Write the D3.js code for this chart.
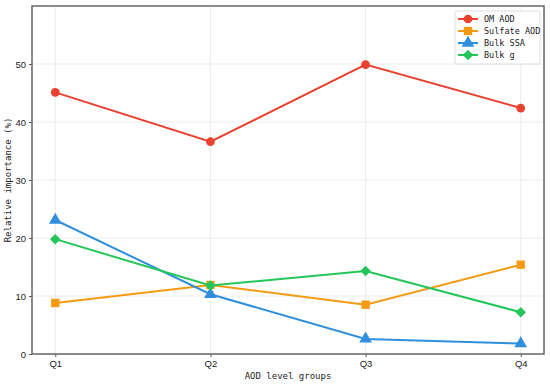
<!DOCTYPE html>
<html>
<head>
<meta charset="utf-8">
<script src="https://cdn.jsdelivr.net/npm/d3@7"></script>
<style>
  body { margin: 0; background: #fff; }
  svg text { font-family: "DejaVu Sans Mono", "Liberation Mono", monospace; fill: #222; }
</style>
</head>
<body>
<div id="chart"></div>
<script>
// AOD level groups and relative importance of each variable (%)
var groups = ["Q1", "Q2", "Q3", "Q4"];
var omAod = [45.1, 36.6, 49.9, 42.4];
var sulfateAod = [8.8, 11.9, 8.5, 15.4];
var bulkSsa = [23.1, 10.3, 2.6, 1.8];
var bulkG = [19.8, 11.8, 14.3, 7.2];
var yTicks = [0, 10, 20, 30, 40, 50];

// diamond = square turned 45 degrees
var series = [
  {name: "OM AOD", values: omAod, color: "#e8412f", symbol: d3.symbolCircle, size: 60, rot: 0},
  {name: "Sulfate AOD", values: sulfateAod, color: "#f59a12", symbol: d3.symbolSquare, size: 70, rot: 0},
  {name: "Bulk SSA", values: bulkSsa, color: "#2f8fdc", symbol: d3.symbolTriangle, size: 70, rot: 0},
  {name: "Bulk g", values: bulkG, color: "#23c65a", symbol: d3.symbolSquare, size: 55, rot: 45}
];

var width = 550, height = 384;
var margin = {top: 6, right: 6, bottom: 30, left: 32};

var svg = d3.select("#chart")
    .append("svg")
    .attr("width", width)
    .attr("height", height);

var x = d3.scalePoint()
    .domain(groups)
    .range([margin.left, width - margin.right])
    .padding(0.15);

var y = d3.scaleLinear()
    .domain([0, 60])
    .range([height - margin.bottom, margin.top]);

// grid
svg.append("g")
    .selectAll("line.gy")
    .data(yTicks)
    .enter()
    .append("line")
    .attr("x1", margin.left)
    .attr("x2", width - margin.right)
    .attr("y1", function(d) { return y(d); })
    .attr("y2", function(d) { return y(d); })
    .attr("stroke", "#ececec")
    .attr("stroke-width", 1);

svg.append("g")
    .selectAll("line.gx")
    .data(groups)
    .enter()
    .append("line")
    .attr("x1", function(d) { return x(d); })
    .attr("x2", function(d) { return x(d); })
    .attr("y1", margin.top)
    .attr("y2", height - margin.bottom)
    .attr("stroke", "#ececec")
    .attr("stroke-width", 1);

// axes
var xAxis = svg.append("g")
    .attr("transform", "translate(0," + (height - margin.bottom) + ")")
    .call(d3.axisBottom(x).tickSize(3).tickPadding(3));

var yAxis = svg.append("g")
    .attr("transform", "translate(" + margin.left + ",0)")
    .call(d3.axisLeft(y).tickValues(yTicks).tickSize(3).tickPadding(3));

[xAxis, yAxis].forEach(function(a) {
  a.select(".domain").remove();
  a.selectAll(".tick line").attr("stroke", "#555");
  a.selectAll(".tick text")
      .style("font-family", "Liberation Sans, Arial, sans-serif")
      .style("font-size", "9.5px")
      .attr("fill", "#222");
});

// frame
svg.append("rect")
    .attr("x", margin.left)
    .attr("y", margin.top)
    .attr("width", width - margin.left - margin.right)
    .attr("height", height - margin.top - margin.bottom)
    .attr("fill", "none")
    .attr("stroke", "#666")
    .attr("stroke-width", 1.5);

// lines + markers
var line = d3.line()
    .x(function(d, i) { return x(groups[i]); })
    .y(function(d) { return y(d); });

series.forEach(function(s) {
  svg.append("path")
      .datum(s.values)
      .attr("d", line)
      .attr("fill", "none")
      .attr("stroke", s.color)
      .attr("stroke-width", 2);

  svg.append("g")
      .selectAll("path")
      .data(s.values)
      .enter()
      .append("path")
      .attr("d", d3.symbol().type(s.symbol).size(s.size))
      .attr("transform", function(d, i) {
        return "translate(" + x(groups[i]) + "," + y(d) + ") rotate(" + s.rot + ")";
      })
      .attr("fill", s.color);
});

// axis titles
svg.append("text")
    .attr("x", (margin.left + width - margin.right) / 2)
    .attr("y", height - 5)
    .attr("text-anchor", "middle")
    .style("font-size", "9px")
    .text("AOD level groups");

svg.append("text")
    .attr("transform", "translate(11," + ((margin.top + height - margin.bottom) / 2) + ") rotate(-90)")
    .attr("text-anchor", "middle")
    .style("font-size", "9px")
    .text("Relative importance (%)");

// legend
var legend = svg.append("g")
    .attr("transform", "translate(455,11)");

legend.append("rect")
    .attr("width", 85)
    .attr("height", 53)
    .attr("rx", 2)
    .attr("fill", "#fff")
    .attr("fill-opacity", 0.9)
    .attr("stroke", "#ddd");

var rows = legend.selectAll("g.row")
    .data(series)
    .enter()
    .append("g")
    .attr("transform", function(d, i) {
      return "translate(0," + (8 + i * 12) + ")";
    });

rows.append("line")
    .attr("x1", 3)
    .attr("x2", 23)
    .attr("stroke", function(d) { return d.color; })
    .attr("stroke-width", 2);

rows.append("path")
    .attr("d", function(d) { return d3.symbol().type(d.symbol).size(d.size)(); })
    .attr("transform", function(d) { return "translate(13,0) rotate(" + d.rot + ")"; })
    .attr("fill", function(d) { return d.color; });

rows.append("text")
    .attr("x", 29)
    .attr("dy", "0.35em")
    .style("font-size", "8.5px")
    .text(function(d) { return d.name; });
</script>
</body>
</html>
